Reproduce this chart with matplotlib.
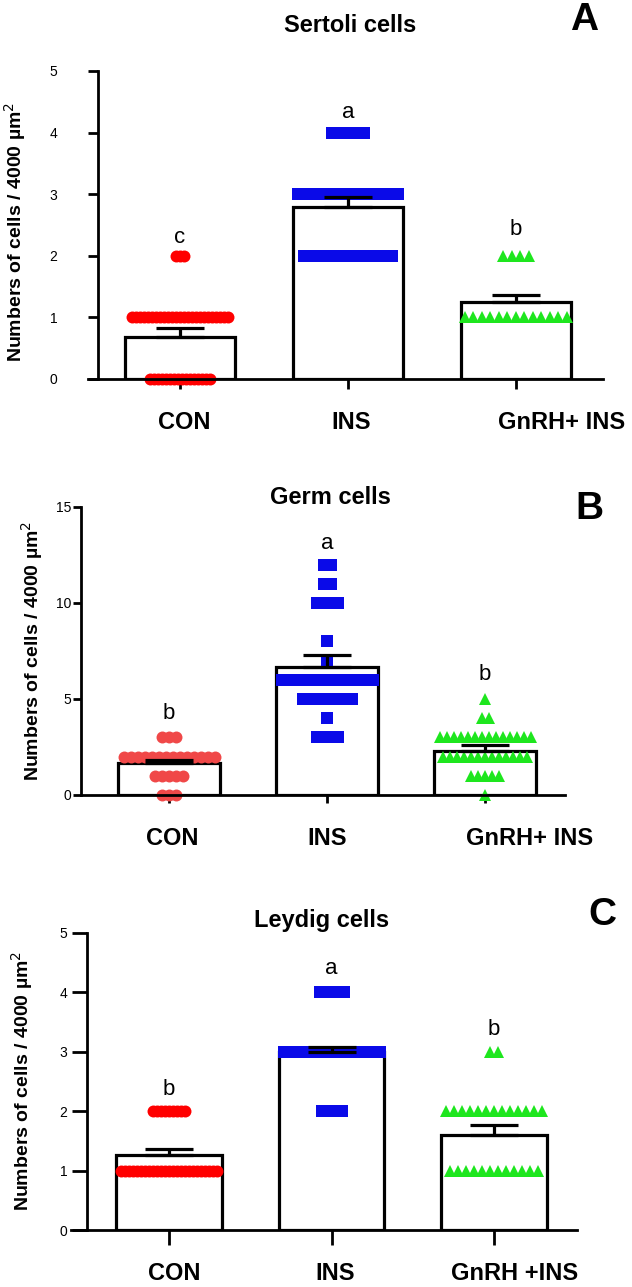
import numpy as np
import matplotlib.pyplot as plt
from matplotlib.transforms import ScaledTranslation

plt.rcParams['font.family'] = ['Liberation Sans', 'DejaVu Sans']

# ---- data ----
groups_ab = ['CON', 'INS', 'GnRH+ INS']
groups_c = ['CON', 'INS', 'GnRH +INS']

# A: Sertoli cells
sertoli_mean = [0.68, 2.79, 1.25]
sertoli_sem = [0.14, 0.17, 0.11]
sertoli_letters = ['c', 'a', 'b']
sertoli_letter_y = [2.29, 4.33, 2.42]
sertoli_con_vals, sertoli_con_n = [0, 1, 2], [16, 25, 3]
sertoli_ins_vals, sertoli_ins_n = [2, 3, 4], [23, 26, 9]
sertoli_gnrh_vals, sertoli_gnrh_n = [1, 2], [13, 4]

# B: Germ cells
germ_mean = [1.65, 6.68, 2.29]
germ_sem = [0.17, 0.62, 0.30]
germ_letters = ['b', 'a', 'b']
germ_letter_y = [4.27, 13.1, 6.25]
germ_con_vals, germ_con_n = [0, 1, 2, 3], [3, 5, 14, 3]
germ_ins_vals, germ_ins_n = [3, 4, 5, 6, 7, 8, 10, 11, 12], [4, 1, 8, 14, 1, 1, 4, 2, 2]
germ_gnrh_vals, germ_gnrh_n = [0, 1, 2, 3, 4, 5], [1, 5, 13, 14, 2, 1]

# C: Leydig cells
leydig_mean = [1.26, 2.99, 1.60]
leydig_sem = [0.10, 0.09, 0.16]
leydig_letters = ['b', 'a', 'b']
leydig_letter_y = [2.36, 4.41, 3.37]
leydig_con_vals, leydig_con_n = [1, 2], [25, 9]
leydig_ins_vals, leydig_ins_n = [2, 3, 4], [6, 25, 7]
leydig_gnrh_vals, leydig_gnrh_n = [1, 2, 3], [12, 13, 2]

W, H = 632, 1287
fig = plt.figure(figsize=(W / 100, H / 100), dpi=100)

markers = ['o', 's', '^']


def panel(rect, xlim, yaxis_x, ylim, yticks, means, sems, rows, colors, spacing,
          letters, letter_y, labels, label_dx, ytick_size, ytick_bold, ytick_pad,
          ylen, xlen, xpad):
    ax = fig.add_axes(rect)
    x = np.arange(3)
    ax.bar(x, means, width=0.65, color='white', edgecolor='black',
           linewidth=2.3, zorder=1)
    px_per_unit = W * rect[2] / (xlim[1] - xlim[0])
    for i, (vals, ns) in enumerate(rows):
        for v, n in zip(vals, ns):
            off = (np.arange(n) - (n - 1) / 2) * spacing[i] / px_per_unit
            ax.plot(x[i] + off, [v] * n, linestyle='none', marker=markers[i],
                    markersize=8.6 if i < 2 else 8.0, color=colors[i],
                    markeredgewidth=0, zorder=2, clip_on=False)
    ax.errorbar(x, means, yerr=[[0, 0, 0], sems], fmt='none', ecolor='black',
                elinewidth=2.3, capsize=17, capthick=2.3, zorder=3)
    for i in range(3):
        ax.text(x[i], letter_y[i], letters[i], ha='center', va='center',
                fontsize=16, zorder=4)
    ax.set_xlim(xlim)
    ax.set_ylim(ylim)
    ax.set_yticks(yticks)
    ax.set_xticks(x)
    ax.set_xticklabels(labels, fontsize=17, fontweight='bold')
    ax.set_yticklabels([str(t) for t in yticks], fontsize=ytick_size,
                       fontweight='bold' if ytick_bold else 'normal')
    for s in ['top', 'right']:
        ax.spines[s].set_visible(False)
    ax.spines['left'].set_position(('data', yaxis_x))
    ax.spines['left'].set_linewidth(2)
    ax.spines['bottom'].set_linewidth(2)
    ax.tick_params(axis='y', direction='out', length=ylen, width=2, pad=ytick_pad)
    ax.tick_params(axis='x', direction='out', length=xlen, width=2, pad=xpad)
    for lab, dx in zip(ax.get_xticklabels(), label_dx):
        lab.set_transform(lab.get_transform() +
                          ScaledTranslation(dx / 100, 0, fig.dpi_scale_trans))
    return ax


red, blue, green = '#ff0000', '#0a0ae8', '#1ee61e'

# Panel A
panel([88 / W, 1 - 379 / H, 515 / W, 308 / H], (-0.548, 2.518), -0.49, (0, 5),
      [0, 1, 2, 3, 4, 5], sertoli_mean, sertoli_sem,
      [(sertoli_con_vals, sertoli_con_n), (sertoli_ins_vals, sertoli_ins_n),
       (sertoli_gnrh_vals, sertoli_gnrh_n)],
      [red, blue, green], [4, 4, 8.5], sertoli_letters, sertoli_letter_y,
      groups_ab, [4, 3, 46], 11.5, True, 22, 7, 7, 16)

# Panel B
panel([81 / W, 1 - 795 / H, 484 / W, 288 / H], (-0.557, 2.506), -0.557, (0, 15),
      [0, 5, 10, 15], germ_mean, germ_sem,
      [(germ_con_vals, germ_con_n), (germ_ins_vals, germ_ins_n),
       (germ_gnrh_vals, germ_gnrh_n)],
      ['#f04848', blue, green], [7, 7, 7], germ_letters, germ_letter_y,
      groups_ab, [3, 0, 45], 14, False, 1, 6, 6, 17)

# Panel C
panel([71 / W, 1 - 1230 / H, 506 / W, 297 / H], (-0.603, 2.51), -0.505, (0, 5),
      [0, 1, 2, 3, 4, 5], leydig_mean, leydig_sem,
      [(leydig_con_vals, leydig_con_n), (leydig_ins_vals, leydig_ins_n),
       (leydig_gnrh_vals, leydig_gnrh_n)],
      [red, blue, green], [4, 4, 8], leydig_letters, leydig_letter_y,
      groups_c, [5, 4, 20], 13, False, 3, 11, 11, 12)

# titles, panel letters, y labels
ylab = 'Numbers of cells / 4000 µm$^2$'
for title, tx, ty, let, lx, ly, yx, yy in [
        ('Sertoli cells', 350, 25, 'A', 584, 20, 15, 232),
        ('Germ cells', 330, 497, 'B', 589, 509, 32, 651),
        ('Leydig cells', 322, 921, 'C', 602, 915, 22, 1081)]:
    fig.text(tx / W, 1 - ty / H, title, ha='center', va='center',
             fontsize=17, fontweight='bold')
    fig.text(lx / W, 1 - ly / H, let, ha='center', va='center',
             fontsize=28, fontweight='bold')
    fig.text(yx / W, 1 - yy / H, ylab, ha='center', va='center',
             rotation=90, fontsize=14, fontweight='bold')

fig.savefig('out.png', dpi=100)
